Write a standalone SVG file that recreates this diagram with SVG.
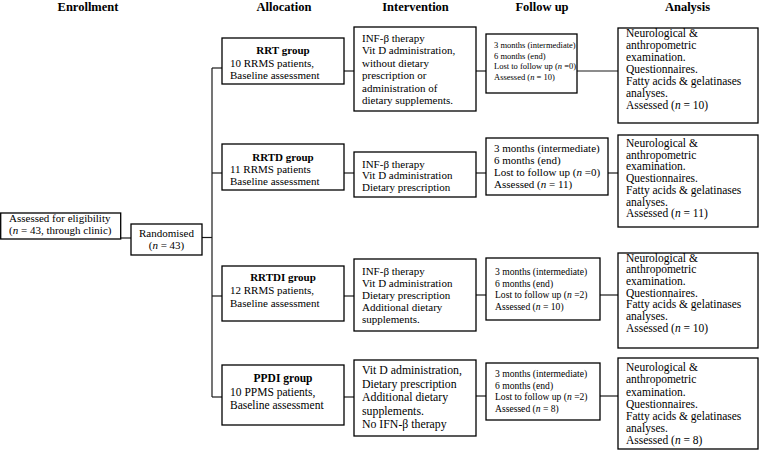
<svg xmlns="http://www.w3.org/2000/svg" width="760" height="453" viewBox="0 0 760 453">
<style>
.box{fill:#fff;stroke:#000;stroke-width:1.3}
.ln{stroke:#1a1a1a;stroke-width:1.2;fill:none}
text{font-family:"Liberation Serif","Times New Roman",serif;fill:#000}
.hdr{font-size:12.5px;font-weight:bold;text-anchor:middle}
.grp{font-weight:bold;text-anchor:middle}
.f85{font-size:8.5px}
.f96{font-size:9.6px}
.f11{font-size:11px}
.f115{font-size:11.5px}
.f12{font-size:11.8px}
.c{text-anchor:middle}
.i{font-style:italic}
</style>
<g id="headers">
<text class="hdr" x="88" y="11">Enrollment</text>
<text class="hdr" x="284" y="11">Allocation</text>
<text class="hdr" x="415.5" y="11">Intervention</text>
<text class="hdr" x="542" y="11">Follow up</text>
<text class="hdr" x="687.5" y="11">Analysis</text>
</g>
<g id="connectors">
<line class="ln" x1="120" y1="238" x2="131" y2="238"/>
<line class="ln" x1="202" y1="237.5" x2="212" y2="237.5"/>
<line class="ln" x1="212" y1="68" x2="212" y2="397"/>
<line class="ln" x1="212" y1="68" x2="222" y2="68"/>
<line class="ln" x1="212" y1="173" x2="222" y2="173"/>
<line class="ln" x1="212" y1="296" x2="222" y2="296"/>
<line class="ln" x1="212" y1="397" x2="222" y2="397"/>
<line class="ln" x1="344" y1="71" x2="354" y2="71"/>
<line class="ln" x1="476" y1="71" x2="486" y2="71"/>
<line class="ln" x1="577" y1="71" x2="618" y2="71"/>
<line class="ln" x1="344" y1="173" x2="354" y2="173"/>
<line class="ln" x1="476" y1="173" x2="486" y2="173"/>
<line class="ln" x1="608" y1="173" x2="618" y2="173"/>
<line class="ln" x1="344" y1="296" x2="354" y2="296"/>
<line class="ln" x1="476" y1="295" x2="486" y2="295"/>
<line class="ln" x1="600" y1="295" x2="618" y2="295"/>
<line class="ln" x1="344" y1="397" x2="354" y2="397"/>
<line class="ln" x1="476" y1="396" x2="486" y2="396"/>
<line class="ln" x1="600" y1="396" x2="618" y2="396"/>
</g>
<g id="eligibility">
<rect class="box" x="0.7" y="213" width="120" height="26"/>
<text class="f11" x="9" y="222">Assessed for eligibility</text>
<text class="f11" x="9" y="234">(<tspan class="i">n</tspan> = 43, through clinic)</text>
</g>
<g id="randomised">
<rect class="box" x="131" y="224" width="71" height="31"/>
<text class="f11 c" x="166.5" y="236.5">Randomised</text>
<text class="f11 c" x="166.5" y="249">(<tspan class="i">n</tspan> = 43)</text>
</g>
<g id="rrt">
<rect class="box" x="222" y="38" width="122" height="46"/>
<text class="f11 grp" x="283" y="54">RRT group</text>
<text class="f11" x="230" y="66.5">10 RRMS patients,</text>
<text class="f11" x="230" y="79">Baseline assessment</text>
</g>
<g id="rrt-intervention">
<rect class="box" x="354" y="27" width="122" height="84"/>
<text class="f11" x="362" y="42">INF-β therapy</text>
<text class="f11" x="362" y="54.4">Vit D administration,</text>
<text class="f11" x="362" y="66.8">without dietary</text>
<text class="f11" x="362" y="79.2">prescription or</text>
<text class="f11" x="362" y="91.6">administration of</text>
<text class="f11" x="362" y="104">dietary supplements.</text>
</g>
<g id="rrt-followup">
<rect class="box" x="486" y="34" width="91" height="59"/>
<text class="f85" x="494" y="48">3 months (intermediate)</text>
<text class="f85" x="494" y="58.7">6 months (end)</text>
<text class="f85" x="494" y="69.4">Lost to follow up (<tspan class="i">n</tspan> =0)</text>
<text class="f85" x="494" y="80">Assessed (<tspan class="i">n</tspan> = 10)</text>
</g>
<g id="rrt-analysis">
<rect class="box" x="618" y="28" width="140" height="95"/>
<text class="f115" x="626" y="37">Neurological &amp;</text>
<text class="f115" x="626" y="49">anthropometric</text>
<text class="f115" x="626" y="61">examination.</text>
<text class="f115" x="626" y="73">Questionnaires.</text>
<text class="f115" x="626" y="85">Fatty acids &amp; gelatinases</text>
<text class="f115" x="626" y="97">analyses.</text>
<text class="f115" x="626" y="109">Assessed  (<tspan class="i">n</tspan> = 10)</text>
</g>
<g id="rrtd">
<rect class="box" x="222" y="144" width="122" height="46"/>
<text class="f11 grp" x="283" y="160.5">RRTD group</text>
<text class="f11" x="230" y="172.5">11 RRMS patients</text>
<text class="f11" x="230" y="184.5">Baseline assessment</text>
</g>
<g id="rrtd-intervention">
<rect class="box" x="354" y="152" width="122" height="45"/>
<text class="f11" x="362" y="167.5">INF-β therapy</text>
<text class="f11" x="362" y="179">Vit D administration</text>
<text class="f11" x="362" y="190.5">Dietary prescription</text>
</g>
<g id="rrtd-followup">
<rect class="box" x="486" y="138" width="122" height="57"/>
<text class="f11" x="494" y="151.5">3 months (intermediate)</text>
<text class="f11" x="494" y="163.5">6 months (end)</text>
<text class="f11" x="494" y="175.5">Lost to follow up (<tspan class="i">n</tspan> =0)</text>
<text class="f11" x="494" y="187.5">Assessed (<tspan class="i">n</tspan> = 11)</text>
</g>
<g id="rrtd-analysis">
<rect class="box" x="618" y="135" width="140" height="92"/>
<text class="f115" x="626" y="147">Neurological &amp;</text>
<text class="f115" x="626" y="158.7">anthropometric</text>
<text class="f115" x="626" y="170.4">examination.</text>
<text class="f115" x="626" y="182.1">Questionnaires.</text>
<text class="f115" x="626" y="193.8">Fatty acids &amp; gelatinases</text>
<text class="f115" x="626" y="205.5">analyses.</text>
<text class="f115" x="626" y="217.2">Assessed (<tspan class="i">n</tspan> = 11)</text>
</g>
<g id="rrtdi">
<rect class="box" x="222" y="266" width="122" height="55"/>
<text class="f11 grp" x="283" y="281">RRTDI group</text>
<text class="f11" x="230" y="294">12 RRMS patients,</text>
<text class="f11" x="230" y="306.5">Baseline assessment</text>
</g>
<g id="rrtdi-intervention">
<rect class="box" x="354" y="259" width="122" height="72"/>
<text class="f11" x="362" y="274.5">INF-β therapy</text>
<text class="f11" x="362" y="286.5">Vit D administration</text>
<text class="f11" x="362" y="298.5">Dietary prescription</text>
<text class="f11" x="362" y="310.5">Additional dietary</text>
<text class="f11" x="362" y="322.5">supplements.</text>
</g>
<g id="rrtdi-followup">
<rect class="box" x="486" y="258" width="114" height="62"/>
<text class="f96" x="495" y="275">3 months (intermediate)</text>
<text class="f96" x="495" y="286.5">6 months (end)</text>
<text class="f96" x="495" y="298">Lost to follow up (<tspan class="i">n</tspan> =2)</text>
<text class="f96" x="495" y="309.5">Assessed (<tspan class="i">n</tspan> = 10)</text>
</g>
<g id="rrtdi-analysis">
<rect class="box" x="618" y="253" width="140" height="95"/>
<text class="f115" x="626" y="261.5">Neurological &amp;</text>
<text class="f115" x="626" y="273.2">anthropometric</text>
<text class="f115" x="626" y="284.9">examination.</text>
<text class="f115" x="626" y="296.6">Questionnaires.</text>
<text class="f115" x="626" y="308.3">Fatty acids &amp; gelatinases</text>
<text class="f115" x="626" y="320">analyses.</text>
<text class="f115" x="626" y="331.7">Assessed (<tspan class="i">n</tspan> = 10)</text>
</g>
<g id="ppdi">
<rect class="box" x="222" y="365" width="122" height="60"/>
<text class="f115 grp" x="283" y="382">PPDI group</text>
<text class="f115" x="230" y="395.5">10 PPMS patients,</text>
<text class="f115" x="230" y="409">Baseline assessment</text>
</g>
<g id="ppdi-intervention">
<rect class="box" x="354" y="360" width="122" height="76"/>
<text class="f12" x="362" y="374">Vit D administration,</text>
<text class="f12" x="362" y="387.5">Dietary prescription</text>
<text class="f12" x="362" y="401">Additional dietary</text>
<text class="f12" x="362" y="414.5">supplements.</text>
<text class="f12" x="362" y="428">No IFN-β therapy</text>
</g>
<g id="ppdi-followup">
<rect class="box" x="486" y="363" width="114" height="57"/>
<text class="f96" x="495" y="377">3 months (intermediate)</text>
<text class="f96" x="495" y="388.5">6 months (end)</text>
<text class="f96" x="495" y="400">Lost to follow up (<tspan class="i">n</tspan> =2)</text>
<text class="f96" x="495" y="411.5">Assessed (<tspan class="i">n</tspan> = 8)</text>
</g>
<g id="ppdi-analysis">
<rect class="box" x="618" y="358" width="140" height="91"/>
<text class="f115" x="626" y="371">Neurological &amp;</text>
<text class="f115" x="626" y="383">anthropometric</text>
<text class="f115" x="626" y="395.5">examination.</text>
<text class="f115" x="626" y="407.5">Questionnaires.</text>
<text class="f115" x="626" y="419.5">Fatty acids &amp; gelatinases</text>
<text class="f115" x="626" y="431.5">analyses.</text>
<text class="f115" x="626" y="443.5">Assessed (<tspan class="i">n</tspan> = 8)</text>
</g>
</svg>
